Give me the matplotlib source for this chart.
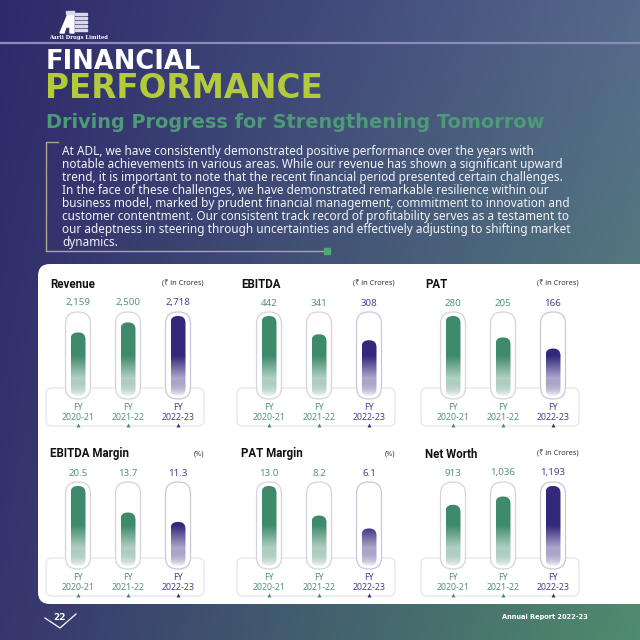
import numpy as np
import matplotlib
matplotlib.use("Agg")
import matplotlib.pyplot as plt
from matplotlib.patches import FancyBboxPatch, Polygon, Rectangle
from matplotlib.colors import LinearSegmentedColormap, to_rgb

# ---- data ----
years = ["2020-21", "2021-22", "2022-23"]
titles = ["Revenue", "EBITDA", "PAT", "EBITDA Margin", "PAT Margin", "Net Worth"]
units = ["(₹ in Crores)", "(₹ in Crores)", "(₹ in Crores)", "(%)", "(%)", "(₹ in Crores)"]
revenue = [2159, 2500, 2718]
ebitda = [442, 341, 308]
pat = [280, 205, 166]
ebitda_margin = [20.5, 13.7, 11.3]
pat_margin = [13.0, 8.2, 6.1]
net_worth = [913, 1036, 1193]
series = [revenue, ebitda, pat, ebitda_margin, pat_margin, net_worth]
labels = [
    ["2,159", "2,500", "2,718"],
    ["442", "341", "308"],
    ["280", "205", "166"],
    ["20.5", "13.7", "11.3"],
    ["13.0", "8.2", "6.1"],
    ["913", "1,036", "1,193"],
]

paragraph = [
    "At ADL, we have consistently demonstrated positive performance over the years with",
    "notable achievements in various areas. While our revenue has shown a significant upward",
    "trend, it is important to note that the recent financial period presented certain challenges.",
    "In the face of these challenges, we have demonstrated remarkable resilience within our",
    "business model, marked by prudent financial management, commitment to innovation and",
    "customer contentment. Our consistent track record of profitability serves as a testament to",
    "our adeptness in steering through uncertainties and effectively adjusting to shifting market",
    "dynamics.",
]

GREEN = "#3e8a6c"
INDIGO = "#34287c"
GREEN_TXT = "#55937c"
INDIGO_TXT = "#4a4190"
LIME = "#b3cb3b"
SUB_GREEN = "#4c9a78"
BODY = ["Noto Sans", "DejaVu Sans"]
HEAD = ["Roboto", "DejaVu Sans"]

W = H = 640
fig = plt.figure(figsize=(6.4, 6.4), dpi=100)
bg = fig.add_axes([0, 0, 1, 1])
bg.axis("off")


def px(x, y):
    # pixel (top-left origin) -> figure fraction
    return x / W, 1 - y / H


# ---- background gradient ----
tl, tr = np.array(to_rgb("#2d2a6a")), np.array(to_rgb("#56698c"))
bl, br = np.array(to_rgb("#37356f")), np.array(to_rgb("#4f8c6c"))
u = np.linspace(0, 1, 200)[None, :, None]
v = np.linspace(0, 1, 200)[:, None, None]
grad = (1 - v) * ((1 - u) * tl + u * tr) + v * ((1 - u) * bl + u * br)
bg.imshow(grad, extent=(0, W, H, 0), aspect="auto", zorder=0)
bg.set_xlim(0, W)
bg.set_ylim(H, 0)

# ---- header ----
# simplified logo
bg.add_patch(Polygon([[60, 33], [68, 14], [74, 14], [74, 33], [70, 33], [70, 27], [66, 27], [64, 33]],
                     closed=True, color="white", zorder=2))
for i in range(5):
    bg.add_patch(Rectangle((75, 13 + i * 4), 12, 2.4, color="#d8d8ea", zorder=2))
bg.add_patch(Rectangle((66, 11), 8, 3, color="#d8d8ea", zorder=2))
bg.text(78, 38, "Aarti Drugs Limited", color="white", fontsize=3.8, family="DejaVu Serif",
        fontweight="bold", ha="center", va="center", zorder=2)
bg.plot([0, W], [43, 43], color="#8c8cbc", lw=1.6, zorder=2)

bg.text(46, 62, "FINANCIAL", color="white", fontsize=18.5, fontweight="bold",
        family="DejaVu Sans", va="center", ha="left", zorder=2)
bg.text(45, 89, "PERFORMANCE", color=LIME, fontsize=23.5, fontweight="bold",
        family="DejaVu Sans", va="center", ha="left", zorder=2)
bg.text(46, 122, "Driving Progress for Strengthening Tomorrow", color=SUB_GREEN, fontsize=13.9,
        fontweight="bold", family="DejaVu Sans", va="center", ha="left", zorder=2)

for i, line in enumerate(paragraph):
    bg.text(62, 152 + i * 12.9, line, color="#f2f2f8", fontsize=8.5, family=BODY,
            va="center", ha="left", zorder=2)
bg.plot([58, 46, 46, 327], [142, 142, 251, 251], color="#a9ab8c", lw=1.0, zorder=2)
bg.add_patch(Rectangle((324, 248), 6, 6, color="#4caa7a", zorder=3))

# ---- white panel ----
bg.add_patch(FancyBboxPatch((38, 264), 640, 340, boxstyle="round,pad=0,rounding_size=12",
                            facecolor="white", edgecolor="none", zorder=1))

# ---- mini charts ----
col_x0 = [53, 244, 428]
row_base = [396, 566]
bar_h = 80
unit_w = 50

for k, vals in enumerate(series):
    r, c = divmod(k, 3)
    x0 = col_x0[c]
    base = row_base[r]
    colors = [GREEN, GREEN, INDIGO]
    txt_colors = [GREEN_TXT, GREEN_TXT, INDIGO_TXT]

    # title and unit
    bg.text(x0 - 3, base - 112, titles[k], fontsize=8.3, fontweight="bold", color="#111111",
            family=HEAD, va="center", ha="left", zorder=3)
    bg.text(x0 + 151, base - 112, units[k], fontsize=5.3, color="#333333", family=BODY,
            va="center", ha="right", zorder=3)

    # lower rounded box
    bg.add_patch(FancyBboxPatch((x0 - 7, base - 8), 158, 38,
                                boxstyle="round,pad=0,rounding_size=6", facecolor="white",
                                edgecolor="#e3e3ea", lw=0.8, zorder=2))
    for i in range(3):
        cx = x0 + unit_w * (i + 0.5)
        bg.add_patch(FancyBboxPatch((cx - 12.5, base - 84), 25, 87,
                                    boxstyle="round,pad=0,rounding_size=12", facecolor="white",
                                    edgecolor="#d4d4de" if i < 2 else "#c9c7da", lw=0.9, zorder=3))
        bg.text(cx, base - 93, labels[k][i], fontsize=7, color=txt_colors[i], family=BODY,
                ha="center", va="center", zorder=3)
        bg.text(cx, base + 11, "FY", fontsize=6.4, color=txt_colors[i], family=BODY,
                ha="center", va="center", zorder=3)
        bg.text(cx, base + 21, years[i], fontsize=6.4, color=txt_colors[i], family=BODY,
                ha="center", va="center", zorder=3)
        bg.plot(cx, base + 28.5, marker="^", ms=2.8, color=colors[i], mec="none", zorder=3)

    # bars
    left, bottom = px(x0, base)
    ax = fig.add_axes([left, bottom, 3 * unit_w / W, bar_h / H])
    ax.axis("off")
    vmax = max(vals)
    xs = np.arange(3)
    bars = ax.bar(xs, vals, width=0.3, color="none", edgecolor="none")
    aspect = (vmax / bar_h) / (1 / unit_w)
    for i, b in enumerate(bars):
        bx, by, bw, bh = b.get_x(), b.get_y(), b.get_width(), b.get_height()
        shape = FancyBboxPatch((bx, by), bw, bh, boxstyle="round,pad=0,rounding_size=0.14",
                               mutation_aspect=aspect, facecolor="none", edgecolor="none")
        ax.add_patch(shape)
        cmap = LinearSegmentedColormap.from_list(
            "g", [(0, "#f3f5f6"), (0.22, colors[i] + "66"), (0.5, colors[i]), (1, colors[i])])
        img = ax.imshow(np.linspace(0, 1, 256)[:, None], cmap=cmap, origin="lower",
                        extent=(bx, bx + bw, 0, vmax), aspect="auto", zorder=2)
        img.set_clip_path(shape)
    ax.set_xlim(-0.5, 2.5)
    ax.set_ylim(0, vmax)

# ---- footer ----
bg.text(60, 617, "22", color="white", fontsize=6.5, fontweight="bold", family="DejaVu Sans",
        ha="center", va="center", zorder=3)
bg.plot([45, 60, 76], [618, 628, 614], color="white", lw=0.9, zorder=3)
bg.text(545, 617, "Annual Report 2022-23", color="white", fontsize=4.8, fontweight="bold",
        family="DejaVu Sans", ha="center", va="center", zorder=3)

fig.savefig("out.png", dpi=100)
